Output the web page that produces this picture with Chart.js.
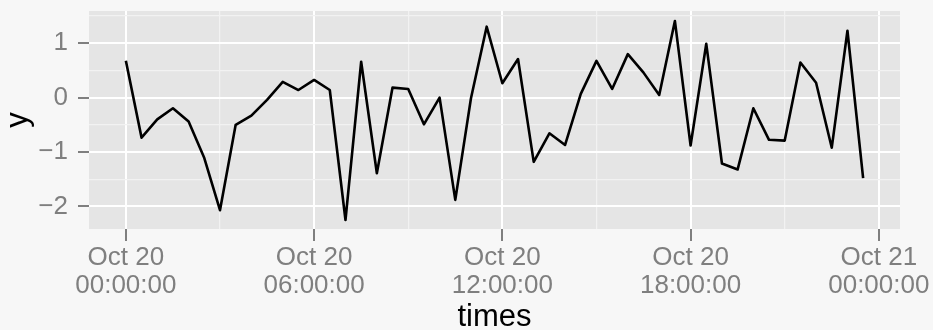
<!DOCTYPE html>
<html><head><meta charset="utf-8">
<script src="https://cdn.jsdelivr.net/npm/chart.js@4/dist/chart.umd.min.js"></script>
<style>html,body{margin:0;padding:0;background:#F7F7F7;}#wrap{width:933px;height:330px;}</style>
</head><body><div id="wrap"><canvas id="c" width="933" height="330"></canvas></div>
<script>
const times = ["00:00","00:30","01:00","01:30","02:00","02:30","03:00","03:30","04:00","04:30","05:00","05:30",
  "06:00","06:30","07:00","07:30","08:00","08:30","09:00","09:30","10:00","10:30","11:00","11:30",
  "12:00","12:30","13:00","13:30","14:00","14:30","15:00","15:30","16:00","16:30","17:00","17:30",
  "18:00","18:30","19:00","19:30","20:00","20:30","21:00","21:30","22:00","22:30","23:00","23:30"];
const yValues = [0.68,-0.735,-0.40,-0.195,-0.44,-1.11,-2.07,-0.50,-0.33,-0.04,0.29,0.14,
  0.325,0.14,-2.25,0.66,-1.39,0.185,0.16,-0.49,0.0,-1.88,-0.01,1.305,
  0.265,0.71,-1.18,-0.655,-0.87,0.07,0.675,0.16,0.80,0.46,0.05,1.41,
  -0.88,0.99,-1.21,-1.32,-0.195,-0.775,-0.79,0.645,0.275,-0.92,1.23,-1.48];
const xMajorTicks = [0,6,12,18,24];
const xMinorTicks = [3,9,15,21];
const xTickLabels = [["Oct 20","00:00:00"],["Oct 20","06:00:00"],["Oct 20","12:00:00"],["Oct 20","18:00:00"],["Oct 21","00:00:00"]];
const yMajorTicks = [-2,-1,0,1];
const yMinorTicks = [-1.5,-0.5,0.5,1.5];
const yTickLabels = ["\u22122","\u22121","0","1"];

const toHours = s => { const [h,m] = s.split(":").map(Number); return h + m/60; };
const points = times.map((t,i)=>({x: toHours(t), y: yValues[i]}));

const FONT = "'Liberation Sans', Arial, Helvetica, sans-serif";
const GREY = '#7F7F7F';

const panelBg = {
  id:'panelBg',
  beforeDraw(chart){
    const {ctx, chartArea:a} = chart;
    ctx.save();
    ctx.fillStyle = '#F7F7F7';
    ctx.fillRect(0,0,chart.width,chart.height);
    ctx.fillStyle = '#E5E5E5';
    ctx.fillRect(a.left,a.top,a.right-a.left,a.bottom-a.top);
    ctx.restore();
  }
};

const isMajorX = v => xMajorTicks.includes(v);
const isMajorY = v => yMajorTicks.includes(v);

new Chart(document.getElementById('c'), {
  type:'line',
  data:{datasets:[{data:points, borderColor:'#000000', borderWidth:2.6, pointRadius:0, tension:0, fill:false, borderJoinStyle:'round'}]},
  options:{
    responsive:false, devicePixelRatio:1, animation:false,
    layout:{padding:{top:11,right:33,left:0,bottom:0}},
    plugins:{legend:{display:false}, tooltip:{enabled:false}},
    scales:{
      x:{
        type:'linear', min:-1.175, max:24.675,
        afterBuildTicks: s => { s.ticks = [...xMinorTicks, ...xMajorTicks].sort((a,b)=>a-b).map(v=>({value:v})); },
        afterFit: s => { s.height = 101; s.paddingLeft = 0; s.paddingRight = 0; },
        border:{display:false},
        grid:{
          color: c => (c.tick && isMajorX(c.tick.value)) ? '#FFFFFF' : '#F2F2F2',
          lineWidth: c => (c.tick && isMajorX(c.tick.value)) ? 2 : 1.2,
          tickColor: c => (c.tick && isMajorX(c.tick.value)) ? GREY : 'rgba(0,0,0,0)',
          tickWidth: 2, tickLength: 12, drawTicks:true
        },
        ticks:{
          autoSkip:false, maxRotation:0, minRotation:0, color:GREY, padding:3,
          font:{family:FONT, size:26, lineHeight:1.07},
          callback: v => { const i = xMajorTicks.indexOf(v); return i>=0 ? xTickLabels[i] : ''; }
        },
        title:{display:true, text:'times', color:'#000000', font:{family:FONT, size:31, lineHeight:1.0}, padding:{top:0,bottom:-3}}
      },
      y:{
        type:'linear', min:-2.415, max:1.593,
        afterBuildTicks: s => { s.ticks = [...yMinorTicks, ...yMajorTicks].sort((a,b)=>a-b).map(v=>({value:v})); },
        afterFit: s => { s.width = 89; s.paddingTop = 0; s.paddingBottom = 0; },
        border:{display:false},
        grid:{
          color: c => (c.tick && isMajorY(c.tick.value)) ? '#FFFFFF' : '#F2F2F2',
          lineWidth: c => (c.tick && isMajorY(c.tick.value)) ? 2 : 1.2,
          tickColor: c => (c.tick && isMajorY(c.tick.value)) ? GREY : 'rgba(0,0,0,0)',
          tickWidth: 2, tickLength: 11, drawTicks:true
        },
        ticks:{
          autoSkip:false, color:GREY, padding:10,
          font:{family:FONT, size:26, lineHeight:1.0},
          callback: v => { const i = yMajorTicks.indexOf(v); return i>=0 ? yTickLabels[i] : ''; }
        },
        title:{display:true, text:'y', color:'#000000', font:{family:FONT, size:31, lineHeight:1.0}, padding:{top:3,bottom:0}}
      }
    }
  },
  plugins:[panelBg]
});
</script></body></html>
